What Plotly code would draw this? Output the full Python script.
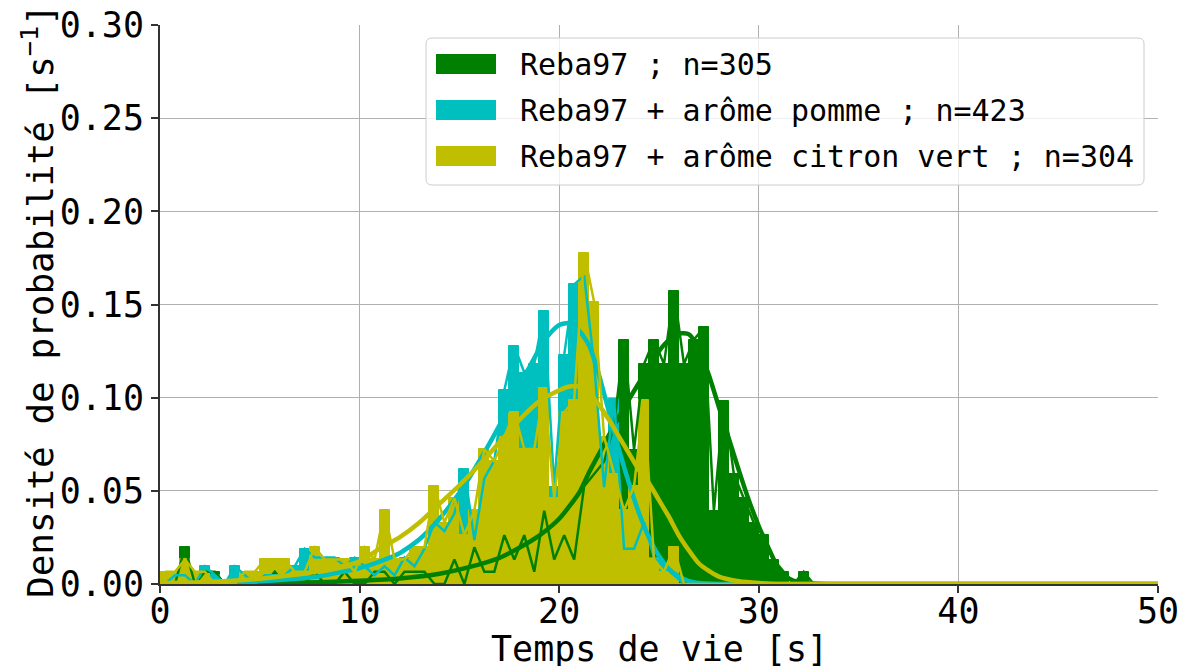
import numpy as np
import plotly.graph_objects as go

# Histogram binning (s)
bin_width = 0.5
bin_edges = np.arange(0.0, 50.0 + bin_width, bin_width)
bin_centers = bin_edges[:-1] + bin_width / 2

# Probability densities per 0.5 s bin [1/s], rows of 5 s
dens_reba = [
    0, 0, 0.0197, 0, 0.0066, 0.0066, 0, 0, 0, 0,
    0, 0.0066, 0, 0, 0, 0.0066, 0, 0, 0.0066, 0,
    0, 0.0066, 0.0066, 0, 0.0066, 0.0066, 0.0066, 0, 0, 0.0131,
    0, 0.0197, 0.0066, 0.0066, 0.0262, 0.0131, 0.0262, 0.0066, 0.0393, 0.0131,
    0.0262, 0.0131, 0.0525, 0.059, 0.0656, 0.0852, 0.1311, 0.0721, 0.118, 0.1311,
    0.118, 0.1574, 0.118, 0.1311, 0.1377, 0.0393, 0.0984, 0.059, 0.0459, 0.0328,
    0.0262, 0.0131, 0.0066, 0, 0.0066, 0, 0, 0, 0, 0,
    0, 0, 0, 0, 0, 0, 0, 0, 0, 0,
    0, 0, 0, 0, 0, 0, 0, 0, 0, 0,
    0, 0, 0, 0, 0, 0, 0, 0, 0, 0,
]
dens_pomme = [
    0, 0.0047, 0.0047, 0, 0.0095, 0.0047, 0, 0.0095, 0.0047, 0,
    0.0047, 0.0047, 0.0047, 0.0095, 0.0189, 0.0142, 0.0142, 0.0142, 0.0095, 0.0142,
    0.0095, 0.0047, 0.0095, 0.0047, 0.0142, 0.0095, 0.0189, 0.0331, 0.0284, 0.0378,
    0.0615, 0.0236, 0.0567, 0.0662, 0.104, 0.1277, 0.1135, 0.1182, 0.1466, 0.052,
    0.123, 0.1608, 0.1655, 0.1182, 0.052, 0.0993, 0.0189, 0.0189, 0.0331, 0.0142,
    0.0095, 0.0047, 0, 0, 0, 0, 0, 0, 0, 0,
    0, 0, 0, 0, 0, 0, 0, 0, 0, 0,
    0, 0, 0, 0, 0, 0, 0, 0, 0, 0,
    0, 0, 0, 0, 0, 0, 0, 0, 0, 0,
    0, 0, 0, 0, 0, 0, 0, 0, 0, 0,
]
dens_citron = [
    0.0066, 0.0066, 0.0132, 0.0066, 0.0066, 0, 0, 0, 0.0066, 0.0066,
    0.0132, 0.0132, 0.0132, 0.0066, 0.0066, 0.0197, 0.0132, 0.0132, 0.0132, 0.0066,
    0.0197, 0.0132, 0.0395, 0.0132, 0.0132, 0.0197, 0.0197, 0.0526, 0.0329, 0.0461,
    0.0263, 0.0395, 0.0724, 0.0658, 0.0789, 0.0921, 0.0724, 0.0724, 0.1053, 0.0461,
    0.0921, 0.0987, 0.1776, 0.1513, 0.0789, 0.0592, 0.0395, 0.0526, 0.0987, 0.0132,
    0.0066, 0.0197, 0, 0, 0, 0, 0, 0, 0, 0,
    0, 0, 0, 0, 0, 0, 0, 0, 0, 0,
    0, 0, 0, 0, 0, 0, 0, 0, 0, 0,
    0, 0, 0, 0, 0, 0, 0, 0, 0, 0,
    0, 0, 0, 0, 0, 0, 0, 0, 0, 0,
]

# Fitted density curves
fit_reba_x = [0, 4, 8, 10, 12, 14, 16, 17, 18, 19, 20, 21, 21.5, 22, 22.5, 23, 24, 25,
              25.5, 26, 26.5, 27, 27.5, 28, 28.5, 29, 29.5, 30, 30.5, 31, 31.5, 32, 33, 35, 50]
fit_reba_y = [0, 0.0003, 0.001, 0.0018, 0.003, 0.0055, 0.0105, 0.014, 0.0195, 0.026, 0.035,
              0.049, 0.06, 0.07, 0.08, 0.09, 0.108, 0.125, 0.131, 0.1345, 0.134, 0.126, 0.112,
              0.095, 0.078, 0.061, 0.045, 0.031, 0.019, 0.008, 0.003, 0.001, 0.0001, 0, 0]
fit_pomme_x = [0, 2, 4, 6, 8, 10, 11, 12, 13, 14, 15, 16, 17, 18, 19, 19.5, 20, 20.5, 21,
               21.5, 22, 22.5, 23, 23.5, 24, 24.5, 25, 25.5, 26, 26.5, 27, 28, 50]
fit_pomme_y = [0, 0.0004, 0.001, 0.0022, 0.0042, 0.0085, 0.012, 0.0165, 0.024, 0.035, 0.049,
               0.066, 0.085, 0.106, 0.126, 0.134, 0.139, 0.14, 0.136, 0.128, 0.112, 0.092,
               0.072, 0.054, 0.038, 0.025, 0.015, 0.008, 0.004, 0.0015, 0.0005, 0, 0]
fit_citron_x = [0, 2, 4, 6, 8, 10, 11, 12, 13, 14, 15, 16, 17, 18, 19, 20, 20.5, 21, 21.5,
                22, 22.5, 23, 23.5, 24, 24.5, 25, 25.5, 26, 26.5, 27, 27.5, 28, 29, 30, 31, 50]
fit_citron_y = [0.0005, 0.001, 0.002, 0.004, 0.007, 0.012, 0.019, 0.025, 0.033, 0.043, 0.053,
                0.064, 0.076, 0.088, 0.098, 0.104, 0.106, 0.106, 0.103, 0.096, 0.088, 0.079,
                0.07, 0.061, 0.054, 0.045, 0.036, 0.026, 0.018, 0.011, 0.007, 0.004, 0.0015,
                0.0005, 0, 0]

labels = ["Reba97 ; n=305", "Reba97 + arôme pomme ; n=423", "Reba97 + arôme citron vert ; n=304"]
colors = ["#008000", "#00bfbf", "#bfbf00"]
densities = [dens_reba, dens_pomme, dens_citron]
fits = [(fit_reba_x, fit_reba_y), (fit_pomme_x, fit_pomme_y), (fit_citron_x, fit_citron_y)]

FONT = "DejaVu Sans Mono"

fig = go.Figure()

# Filled histogram bars
for lab, col, dens in zip(labels, colors, densities):
    fig.add_trace(go.Bar(
        x=bin_centers, y=dens, width=bin_width, name=lab,
        marker=dict(color=col, line=dict(color=col, width=1)),
        showlegend=False, hoverinfo="skip",
    ))

# Frequency polygons and fitted curves
for lab, col, dens, (fx, fy) in zip(labels, colors, densities, fits):
    fig.add_trace(go.Scatter(
        x=bin_centers, y=dens, mode="lines",
        line=dict(color=col, width=2.5), showlegend=False, hoverinfo="skip",
    ))
    fig.add_trace(go.Scatter(
        x=fx, y=fy, mode="lines",
        line=dict(color=col, width=4.5, shape="spline", smoothing=0.6),
        showlegend=False, hoverinfo="skip",
    ))

# Plot-area geometry in pixels
L, R, T, B = 160, 1158, 25, 584
W, H = 1180, 666


def px_x(px):
    return (px - L) / (R - L)


def px_y(py):
    return (B - py) / (B - T)


def rounded_rect(x0, y0, x1, y1, r):
    rx = r / (R - L)
    ry = r / (B - T)
    X0, X1 = px_x(x0), px_x(x1)
    Y0, Y1 = px_y(y1), px_y(y0)
    return (f"M{X0 + rx},{Y0} L{X1 - rx},{Y0} Q{X1},{Y0} {X1},{Y0 + ry} "
            f"L{X1},{Y1 - ry} Q{X1},{Y1} {X1 - rx},{Y1} L{X0 + rx},{Y1} "
            f"Q{X0},{Y1} {X0},{Y1 - ry} L{X0},{Y0 + ry} Q{X0},{Y0} {X0 + rx},{Y0} Z")


shapes = [dict(type="path", xref="paper", yref="paper",
               path=rounded_rect(426, 38, 1144, 185, 6),
               fillcolor="rgba(255,255,255,0.8)", line=dict(color="#cccccc", width=1),
               layer="above")]
annotations = []
row_centers = [64, 110, 156]
for lab, col, yc in zip(labels, colors, row_centers):
    shapes.append(dict(type="rect", xref="paper", yref="paper",
                       x0=px_x(436), x1=px_x(496), y0=px_y(yc + 10), y1=px_y(yc - 10),
                       fillcolor=col, line=dict(width=0), layer="above"))
    annotations.append(dict(xref="paper", yref="paper", x=px_x(518), y=px_y(yc),
                            xanchor="left", yanchor="middle", showarrow=False, text=lab,
                            font=dict(family=FONT, size=30, color="black")))

annotations.append(dict(xref="paper", yref="paper", x=px_x(38), y=px_y(301),
                        xanchor="center", yanchor="middle", showarrow=False, textangle=-90,
                        text="Densité de probabilité [s<sup>−1</sup>]",
                        font=dict(family=FONT, size=36, color="black")))
annotations.append(dict(xref="paper", yref="paper", x=0.5, y=px_y(649),
                        xanchor="center", yanchor="middle", showarrow=False,
                        text="Temps de vie [s]",
                        font=dict(family=FONT, size=35, color="black")))

fig.update_layout(
    width=W, height=H,
    margin=dict(l=L, r=W - R, t=T, b=H - B, pad=0, autoexpand=False),
    paper_bgcolor="white", plot_bgcolor="white",
    barmode="overlay", bargap=0, showlegend=False,
    font=dict(family=FONT, size=35, color="black"),
    shapes=shapes, annotations=annotations,
)
fig.update_xaxes(
    range=[0, 50], tickvals=[0, 10, 20, 30, 40, 50], ticks="outside", ticklen=7,
    tickwidth=1.5, tickcolor="#333333", showline=True, linecolor="#333333", linewidth=2,
    showgrid=True, gridcolor="#b0b0b0", gridwidth=1.2, zeroline=False, automargin=False,
    ticklabelstandoff=-12,
    tickfont=dict(family=FONT, size=35, color="black"),
)
fig.update_yaxes(
    range=[0, 0.30], tickvals=[0, 0.05, 0.10, 0.15, 0.20, 0.25, 0.30], tickformat=".2f",
    ticks="outside", ticklen=7, tickwidth=1.5, tickcolor="#333333",
    showline=True, linecolor="#333333", linewidth=2, automargin=False,
    showgrid=True, gridcolor="#b0b0b0", gridwidth=1.2, zeroline=False,
    tickfont=dict(family=FONT, size=35, color="black"),
)

fig.write_html("out.html")
